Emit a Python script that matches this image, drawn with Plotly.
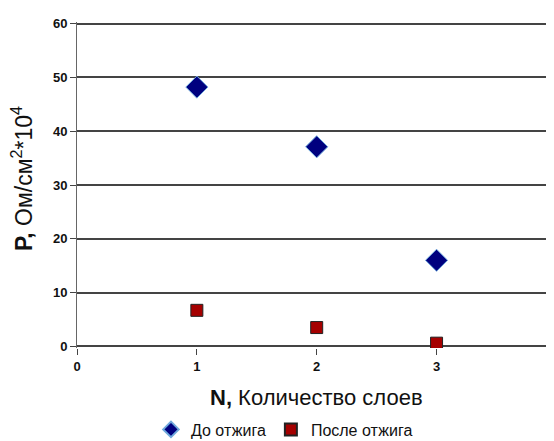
import plotly.graph_objects as go

layers = [1, 2, 3]
before_anneal = [48.2, 37.1, 16.0]
after_anneal = [6.7, 3.5, 0.6]
x_ticks = [0, 1, 2, 3]
y_ticks = [0, 10, 20, 30, 40, 50, 60]

fig = go.Figure()
fig.add_trace(go.Scatter(
    x=layers, y=before_anneal, mode="markers", name="До отжига",
    marker=dict(symbol="diamond", size=17, color="#00007F",
                line=dict(color="#6FA8DC", width=1)),
))
fig.add_trace(go.Scatter(
    x=layers, y=after_anneal, mode="markers", name="После отжига",
    marker=dict(symbol="square", size=12, color="#A50000",
                line=dict(color="#222222", width=1)),
))

fig.update_layout(
    width=546, height=433,
    margin=dict(l=69, r=0, t=14, b=93, autoexpand=False),
    plot_bgcolor="white", paper_bgcolor="white",
    font=dict(family="Liberation Sans, Arial, sans-serif", color="#111111"),
    showlegend=True,
    legend=dict(orientation="h", x=0.435, xanchor="center", y=-0.25, yanchor="middle",
                font=dict(size=16, color="#111111"), itemsizing="constant",
                itemwidth=30, tracegroupgap=0),
    xaxis=dict(range=[0, 3.98], tickvals=x_ticks, ticktext=[str(v) for v in x_ticks],
               showgrid=False, zeroline=False, showline=False, automargin=False,
               ticks="outside", ticklen=6, tickcolor="#444444", tickwidth=1,
               tickfont=dict(size=13, family="Liberation Sans, Arial", weight="bold"),
               fixedrange=True),
    yaxis=dict(range=[-0.3, 60.3], tickvals=y_ticks, automargin=False,
               showgrid=True, gridcolor="#444444", gridwidth=2,
               zeroline=False, showline=True, linecolor="#666666", linewidth=1,
               ticks="outside", ticklen=6, tickcolor="#444444",
               tickfont=dict(size=13, family="Liberation Sans, Arial", weight="bold"),
               fixedrange=True),
)

fig.add_annotation(
    text="<b>N,</b> Количество слоев", xref="paper", yref="paper",
    x=0.503, y=-0.153, xanchor="center", yanchor="middle", showarrow=False,
    font=dict(size=22, color="#111111"),
)
fig.add_annotation(
    text="<b>P,</b> Ом/см<sup>2</sup>*10<sup>4</sup>", xref="paper", yref="paper",
    x=-0.114, y=0.52, xanchor="center", yanchor="middle", showarrow=False,
    textangle=-90, font=dict(size=23, color="#111111"),
)

fig.write_html("out.html")
